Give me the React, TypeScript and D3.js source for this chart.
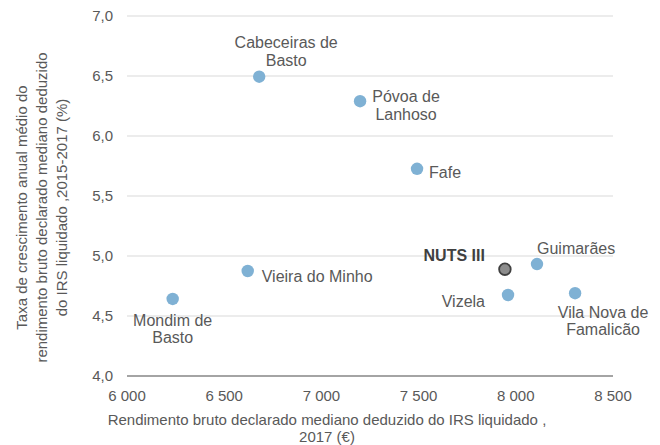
import React from "react";
import * as d3 from "d3";

const names = ["Cabeceiras de Basto", "Póvoa de Lanhoso", "Fafe", "Guimarães", "NUTS III", "Vizela", "Vila Nova de Famalicão", "Vieira do Minho", "Mondim de Basto"];
const incomes = [6680, 7199, 7492, 8109, 7944, 7960, 8305, 6621, 6235];
const growth = [6.494, 6.29, 5.727, 4.933, 4.89, 4.675, 4.69, 4.875, 4.642];
const labelLines = [["Cabeceiras de", "Basto"], ["Póvoa de", "Lanhoso"], ["Fafe"], ["Guimarães"], ["NUTS III"], ["Vizela"], ["Vila Nova de", "Famalicão"], ["Vieira do Minho"], ["Mondim de", "Basto"]];
const xTicks = [6000, 6500, 7000, 7500, 8000, 8500];
const yTicks = [4.0, 4.5, 5.0, 5.5, 6.0, 6.5, 7.0];

// label placement: [dx, dy, anchor, lineGap]
const labelPos: [number, number, string, number][] = [
  [27, -28.3, "middle", 18],
  [46, 0.7, "middle", 18],
  [12, 9.7, "start", 18],
  [0, -10.3, "start", 18],
  [-20, -8.3, "end", 18],
  [-23, 12.4, "end", 18],
  [28, 24.7, "middle", 17],
  [14, 11.4, "start", 18],
  [0, 26.7, "middle", 17.5],
];

export default function App() {
  const W = 660, H = 445;
  const x = d3.scaleLinear().domain([6000, 8500]).range([127, 613]);
  const y = d3.scaleLinear().domain([4, 7]).range([376, 16]);
  const fmtX = (v: number) => d3.format(",")(v).replace(",", " ");
  const fmtY = (v: number) => v.toFixed(1).replace(".", ",");
  const font = "'Liberation Sans', Arial, sans-serif";
  const txt = "#595959";
  const fsT = 15;
  const fsL = 16;
  return (
    <svg width={W} height={H} style={{ position: "absolute", left: 0, top: 0 }} fontFamily={font}>
      <rect width={W} height={H} fill="#fff" />
      {yTicks.map((t) => (
        <g key={t}>
          {t > 4 && <line x1={127} x2={613} y1={y(t)} y2={y(t)} stroke="#d9d9d9" strokeWidth={1} />}
          <text x={113} y={y(t) + 5.4} textAnchor="end" fontSize={fsT} fill={txt}>{fmtY(t)}</text>
        </g>
      ))}
      <line x1={127} x2={613} y1={y(4)} y2={y(4)} stroke="#868686" strokeWidth={1.3} />
      {xTicks.map((t) => (
        <text key={t} x={x(t)} y={401} textAnchor="middle" fontSize={fsT} fill={txt}>{fmtX(t)}</text>
      ))}
      <text textAnchor="middle" fontSize={fsT} fill={txt}>
        <tspan x={327} y={424.5}>Rendimento bruto declarado mediano deduzido do IRS liquidado ,</tspan>
        <tspan x={327} y={442}>2017 (€)</tspan>
      </text>
      <text transform="translate(0,207.5) rotate(-90)" textAnchor="middle" fontSize={fsT} fill={txt}>
        <tspan x={0} y={27}>Taxa de crescimento anual médio do</tspan>
        <tspan x={0} y={47}>rendimento bruto declarado mediano deduzido</tspan>
        <tspan x={0} y={67}>do IRS liquidado ,2015-2017 (%)</tspan>
      </text>
      {names.map((n, i) => {
        const cx = x(incomes[i]);
        const cy = y(growth[i]);
        const isNuts = n === "NUTS III";
        const [dx, dy, anchor, gap] = labelPos[i];
        return (
          <g key={n}>
            <circle cx={cx} cy={cy} r={isNuts ? 5.8 : 6.2} fill={isNuts ? "#8c8c8c" : "#7fb1d4"} stroke={isNuts ? "#404040" : "none"} strokeWidth={1.8} />
            <text textAnchor={anchor} fontSize={fsL} fill={isNuts ? "#404040" : txt} fontWeight={isNuts ? "bold" : "normal"}>
              {labelLines[i].map((l, k) => (
                <tspan key={k} x={cx + dx} y={cy + dy + k * gap}>{l}</tspan>
              ))}
            </text>
          </g>
        );
      })}
    </svg>
  );
}
